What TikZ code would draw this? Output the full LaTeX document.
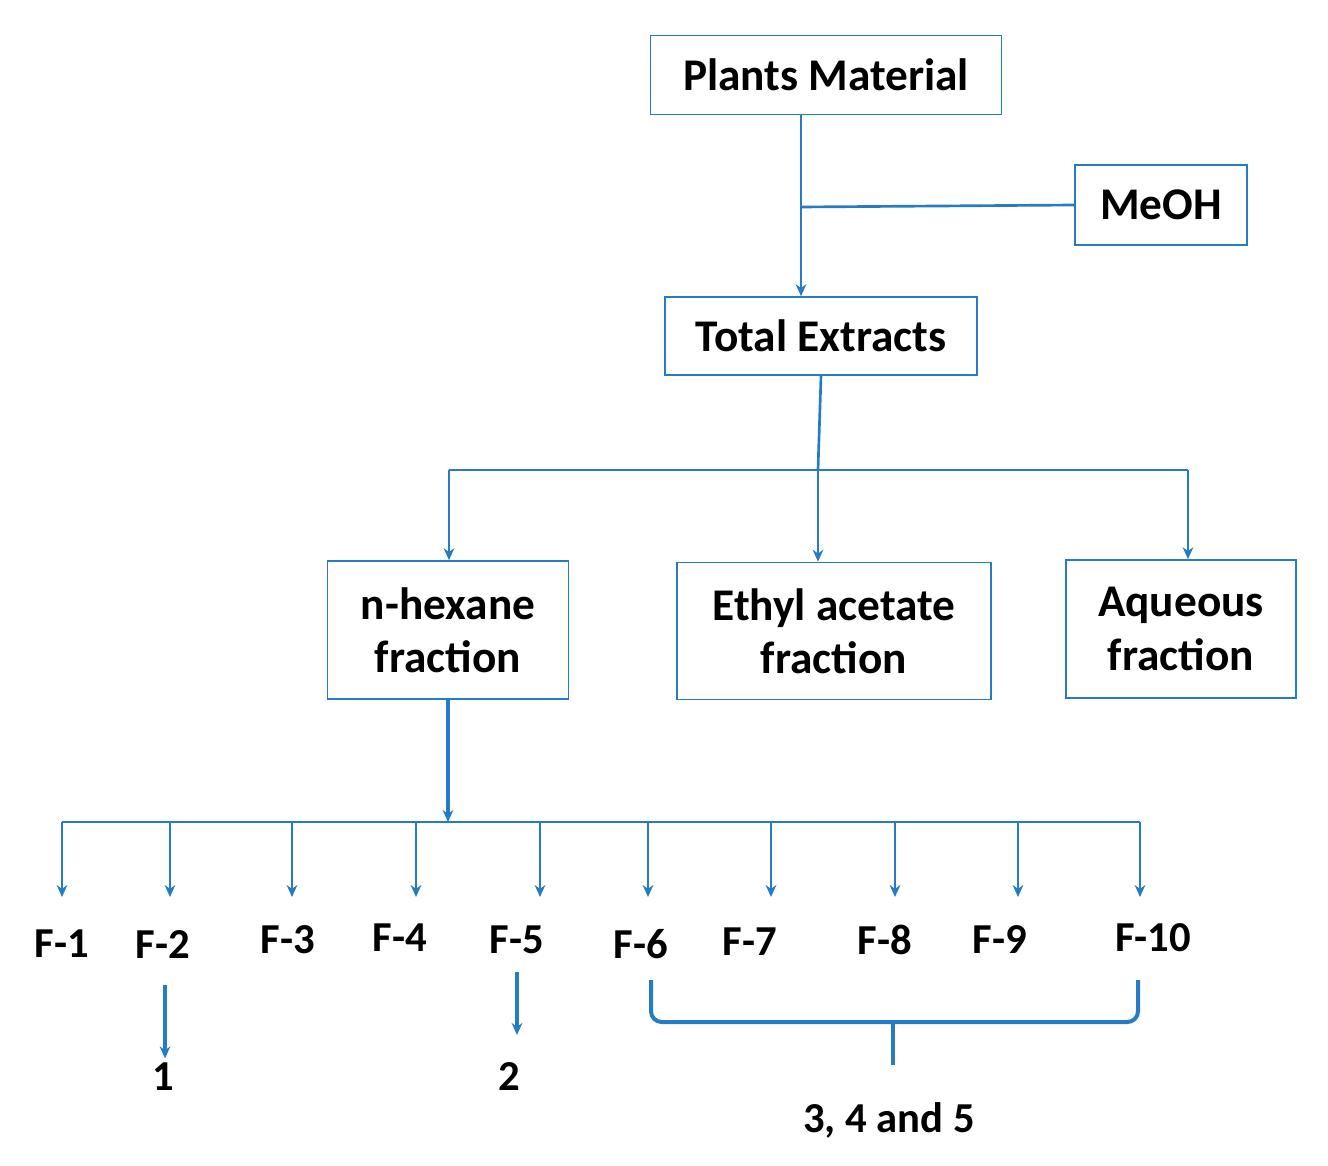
\documentclass[tikz,border=0pt]{standalone}
\usepackage{fontspec}
\setmainfont{Carlito}
\usetikzlibrary{arrows.meta}
\definecolor{bl}{RGB}{38,124,196}
\begin{document}
\begin{tikzpicture}[x=0.75pt,y=-0.75pt,
  box/.style={draw=bl,line width=1.2pt,inner sep=0pt,font=\bfseries\fontsize{34}{40}\selectfont,align=center},
  lbl/.style={font=\bfseries\fontsize{32}{36}\selectfont},
  ln/.style={draw=bl,line width=2pt},
  arr/.style={ln,-{Stealth[length=9pt,width=8pt]}}]
\useasboundingbox (0,0) rectangle (1328,1166);
\node[box,minimum width=351*0.75pt,minimum height=79*0.75pt] (pm) at (826,75) {Plants Material};
\node[box,minimum width=172*0.75pt,minimum height=80*0.75pt] (me) at (1161,205) {MeOH};
\node[box,minimum width=312*0.75pt,minimum height=78*0.75pt] (te) at (821,336) {Total Extracts};
\node[box,minimum width=241*0.75pt,minimum height=138*0.75pt] (nh) at (448,630) {n-hexane\\fraction};
\node[box,minimum width=314*0.75pt,minimum height=137*0.75pt] (ea) at (834,631) {Ethyl acetate\\fraction};
\node[box,minimum width=230*0.75pt,minimum height=138*0.75pt] (aq) at (1181,629) {Aqueous\\fraction};
\coordinate (j1) at (801,207);
\draw[arr] (pm.south -| j1) -- (te.north -| j1);
\draw[ln] (j1) -- (me.west);
\coordinate (j2) at (818,470);
\draw[ln] (te.south) -- (j2);
\draw[ln] (449,470) -- (1188,470);
\draw[arr] (449,470) -- (nh.north -| 449,0);
\draw[arr] (j2) -- (ea.north -| j2);
\draw[arr] (1188,470) -- (aq.north -| 1188,0);
\coordinate (j3) at (448,822);
\draw[arr,line width=3pt] (nh.south) -- (j3);
\draw[ln] (62,822) -- (1140,822);
\foreach \x in {62,170,292,416,540,648,771,895,1018,1140}
  \draw[arr] (\x,822) -- (\x,897);
\foreach \i/\x/\y in {1/62/944,2/163/945,3/288/940,4/400/938,5/517/940,6/641/944,7/750/942,8/885/940,9/1000/940,10/1153/938}
  \node[lbl] (f\i) at (\x,\y) {F-\i};
\node[lbl] (r1) at (163,1077) {1};
\node[lbl] (r2) at (509,1077) {2};
\node[lbl] (r3) at (889,1120) {3, 4 and 5};
\draw[arr,line width=3pt] (165,985) -- (r1.north -| 165,0);
\draw[arr,line width=3pt] (517,972) -- (517,1035);
\draw[ln,line width=3pt,rounded corners=8pt] (651,980) -- (651,1022) -- (1138,1022) -- (1138,980);
\draw[ln,line width=3pt] (893,1022) -- (893,1065);
\end{tikzpicture}
\end{document}
